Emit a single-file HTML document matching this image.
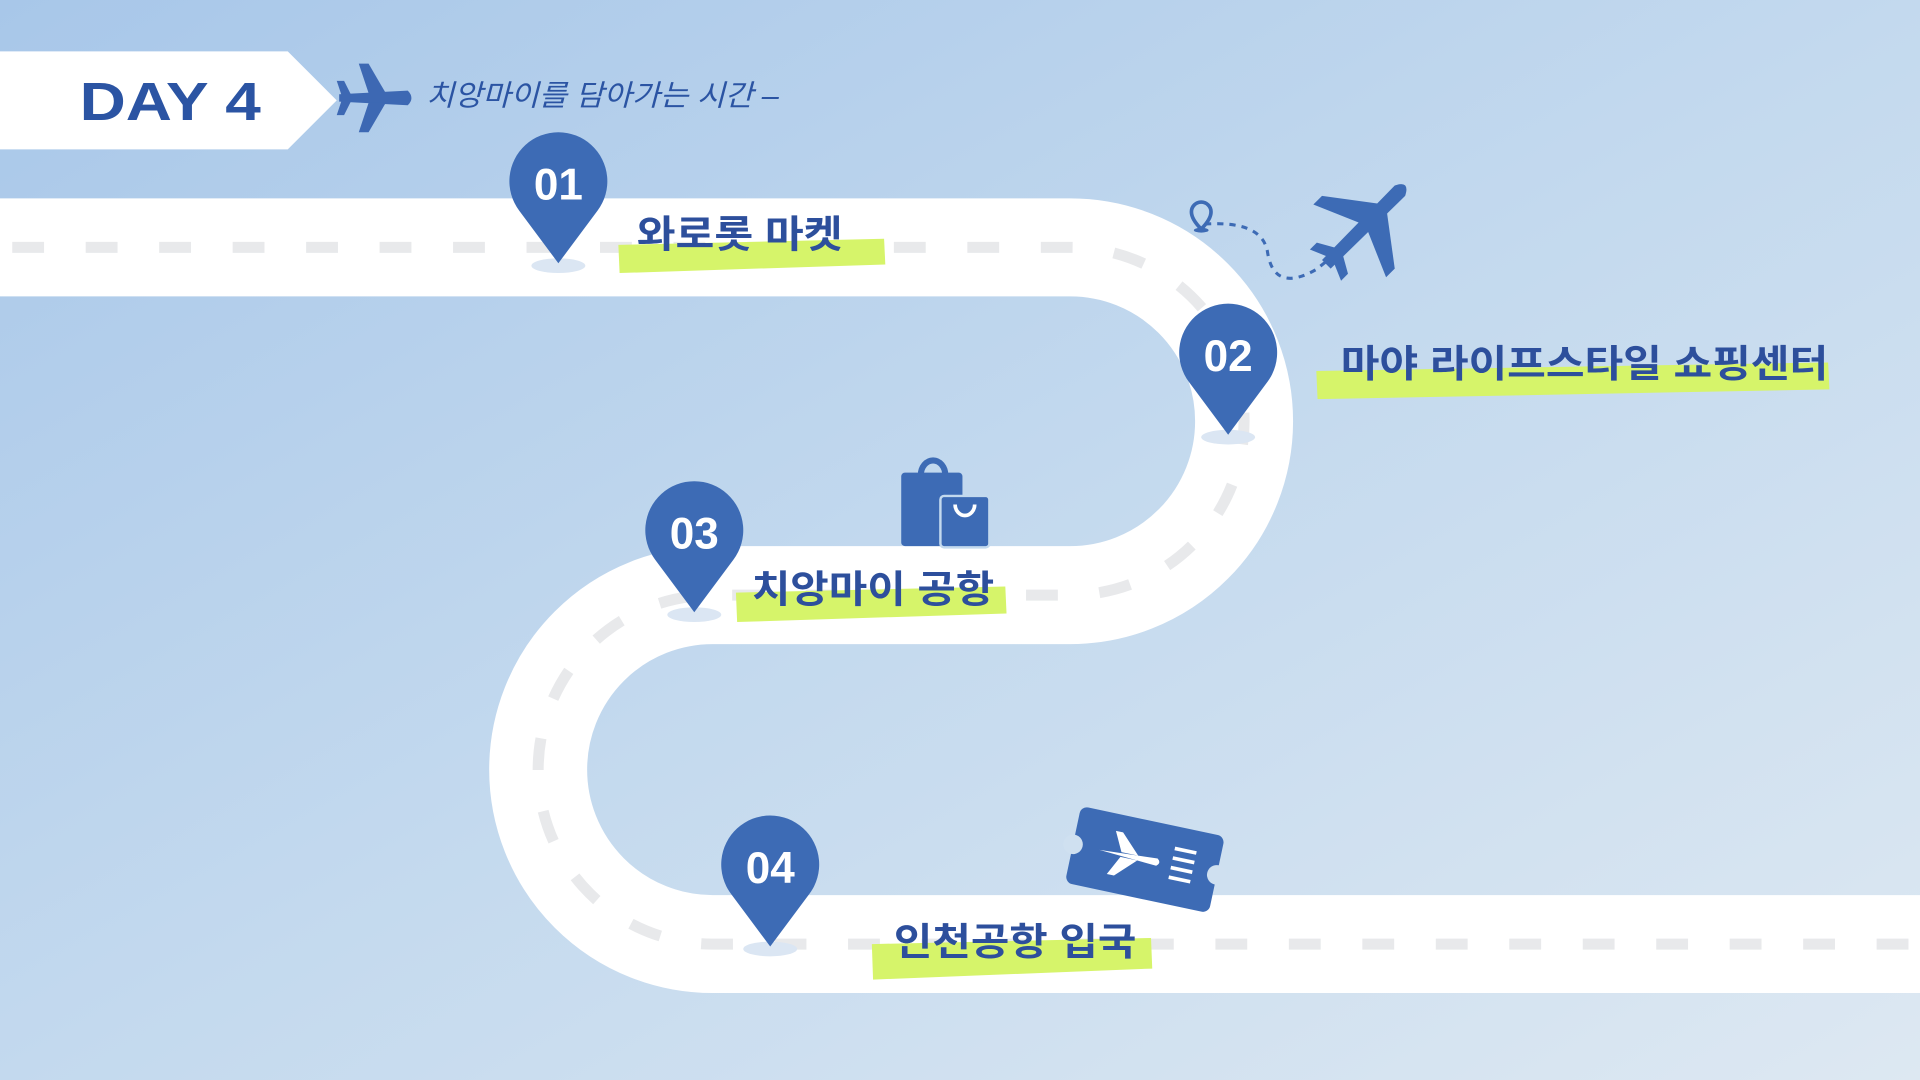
<!DOCTYPE html>
<html><head><meta charset="utf-8"><style>
html,body{margin:0;padding:0;width:1920px;height:1080px;overflow:hidden}
svg{display:block}
text{font-family:"Liberation Sans","Noto Sans CJK KR",sans-serif}
</style></head><body>
<svg width="1920" height="1080" viewBox="0 0 1568 882" xmlns="http://www.w3.org/2000/svg">
<defs>
<linearGradient id="bg" x1="0" y1="0" x2="1" y2="1">
<stop offset="0" stop-color="#a8c7e9"/><stop offset="0.5" stop-color="#c3d9ee"/><stop offset="1" stop-color="#dde8f2"/>
</linearGradient>
</defs>
<rect width="1568" height="882" fill="url(#bg)"/>
<path d="M0 202 H874 A142 142 0 0 1 874 486 H582 A142.5 142.5 0 0 0 582 771 H1568" fill="none" stroke="#fff" stroke-width="80"/>
<path d="M10 202 H874 A142 142 0 0 1 874 486 H582 A142.5 142.5 0 0 0 582 771 H1568" fill="none" stroke="#e8e9eb" stroke-width="9" stroke-dasharray="26 34"/>
<polygon points="0,42 235,42 275,82 235,122 0,122" fill="#fff"/>
<text x="65" y="98" font-size="44" font-weight="bold" fill="#2b54a3" textLength="148" lengthAdjust="spacingAndGlyphs">DAY 4</text>
<g transform="translate(305,80)" fill="#3d68b3">
<path d="M-28 -3 L28 -6 Q34 0 28 6 L-28 3 Z"/>
<path d="M-4 -4 L-12 -28 L-4 -28 L10 -4Z"/><path d="M-4 4 L-12 28 L-4 28 L10 4Z"/>
<path d="M-26 -2 L-30 -14 L-24 -14 L-18 -2Z"/><path d="M-26 2 L-30 14 L-24 14 L-18 2Z"/>
</g>
<text x="348" y="86" font-size="24" fill="#2b54a3" font-style="italic" textLength="288" lengthAdjust="spacingAndGlyphs">치앙마이를 담아가는 시간 –</text>
<g fill="#d6f46a">
<polygon points="505,200 722,195 723,216 506,223"/>
<polygon points="1075,303 1493,296 1494,318 1076,326"/>
<polygon points="601,484 821,479 822,501 602,508"/>
<polygon points="712,771 940,766 941,791 713,800"/>
</g>
<g font-size="31" font-weight="bold" fill="#2d4f9c">
<text x="520" y="202" textLength="168" lengthAdjust="spacingAndGlyphs">와로롯 마켓</text>
<text x="1095" y="308" textLength="398" lengthAdjust="spacingAndGlyphs">마야 라이프스타일 쇼핑센터</text>
<text x="614" y="492" textLength="198" lengthAdjust="spacingAndGlyphs">치앙마이 공항</text>
<text x="730" y="780" textLength="198" lengthAdjust="spacingAndGlyphs">인천공항 입국</text>
</g>
<g>
<ellipse cx="456" cy="217" rx="22" ry="6" fill="#dbe6f3"/>
<path d="M456 215 L424 172 A40 40 0 1 1 488 172 Z" fill="#3d6bb5"/>
<text x="456" y="163" font-size="36" font-weight="bold" fill="#fff" text-anchor="middle">01</text>
<ellipse cx="1003" cy="357" rx="22" ry="6" fill="#dbe6f3"/>
<path d="M1003 355 L971 312 A40 40 0 1 1 1035 312 Z" fill="#3d6bb5"/>
<text x="1003" y="303" font-size="36" font-weight="bold" fill="#fff" text-anchor="middle">02</text>
<ellipse cx="567" cy="502" rx="22" ry="6" fill="#dbe6f3"/>
<path d="M567 500 L535 457 A40 40 0 1 1 599 457 Z" fill="#3d6bb5"/>
<text x="567" y="448" font-size="36" font-weight="bold" fill="#fff" text-anchor="middle">03</text>
<ellipse cx="629" cy="775" rx="22" ry="6" fill="#dbe6f3"/>
<path d="M629 773 L597 730 A40 40 0 1 1 661 730 Z" fill="#3d6bb5"/>
<text x="629" y="721" font-size="36" font-weight="bold" fill="#fff" text-anchor="middle">04</text>
</g>
<g fill="#3d6bb5">
<path d="M752 388 a10 12 0 0 1 20 0" fill="none" stroke="#3d6bb5" stroke-width="5"/>
<rect x="736" y="386" width="50" height="60" rx="3"/>
<rect x="768" y="405" width="40" height="42" rx="3" stroke="#c3d9ee" stroke-width="2"/>
<path d="M780 412 a8 9 0 0 0 16 0" fill="none" stroke="#fff" stroke-width="3"/>
</g>
<g transform="translate(935,702) rotate(12)">
<rect x="-60" y="-32" width="120" height="64" rx="6" fill="#3d6bb5"/>
<circle cx="-60" cy="0" r="8" fill="#cfe0f0"/><circle cx="60" cy="0" r="8" fill="#cfe0f0"/>
<path d="M-38 0 L10 -3 Q14 0 10 3 Z M-20 -2 L-28 -18 L-22 -18 L-6 -2Z M-20 2 L-28 18 L-22 18 L-6 2Z" fill="#fff"/>
<g stroke="#fff" stroke-width="3"><line x1="22" y1="-14" x2="40" y2="-14"/><line x1="22" y1="-6" x2="40" y2="-6"/><line x1="22" y1="2" x2="40" y2="2"/><line x1="22" y1="10" x2="40" y2="10"/></g>
</g>
<path d="M984 183 Q1030 180 1035 205 Q1040 240 1075 220 L1085 212" fill="none" stroke="#3d6bb5" stroke-width="2.5" stroke-dasharray="5 5"/>
<path d="M981 165 a8 8 0 0 1 8 8 q0 6 -8 14 q-8 -8 -8 -14 a8 8 0 0 1 8 -8z" fill="none" stroke="#3d6bb5" stroke-width="3"/>
<ellipse cx="981" cy="188" rx="6" ry="2" fill="#3d6bb5"/>
<g transform="translate(1115,184) rotate(-45)" fill="#3d6bb5">
<path d="M-45 -5 L40 -6 Q52 0 40 6 L-45 5 Z"/>
<path d="M-2 -5 L-18 -42 L-8 -42 L20 -5Z"/><path d="M-2 5 L-18 42 L-8 42 L20 5Z"/>
<path d="M-40 -4 L-46 -18 L-38 -18 L-30 -4Z"/><path d="M-40 4 L-46 18 L-38 18 L-30 4Z"/>
</g>
</svg>
</body></html>
